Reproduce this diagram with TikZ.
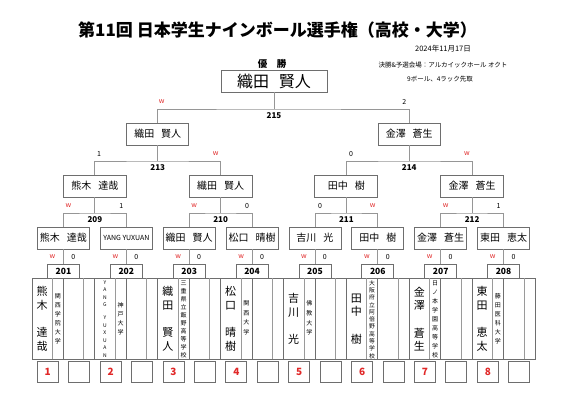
\documentclass[tikz,border=0pt]{standalone}
\usepackage{fontspec}
\setmainfont{Noto Sans CJK JP}
\definecolor{boxgray}{RGB}{110,110,110}
\definecolor{linegray}{RGB}{150,150,150}
\definecolor{wred}{RGB}{225,40,40}
\begin{document}
\begin{tikzpicture}[x=1pt,y=-1pt,
  box/.style={draw=boxgray, line width=0.8pt, minimum height=22pt, inner sep=0pt, font=\fontsize{10}{12}\selectfont},
  mbox/.style={draw=boxgray, line width=0.8pt, minimum width=32pt, minimum height=14pt, inner sep=0pt, font=\bfseries\fontsize{8.5}{10}\selectfont},
  numbox/.style={draw=boxgray, line width=0.8pt, minimum width=21pt, minimum height=21pt, inner sep=0pt, font=\bfseries\fontsize{10}{12}\selectfont, text=wred},
  conn/.style={draw=linegray, line width=0.8pt},
  wlab/.style={font=\fontsize{7}{8}\selectfont, text=wred, inner sep=0pt},
  slab/.style={font=\fontsize{7}{8}\selectfont, inner sep=0pt},
  mlab/.style={font=\bfseries\fontsize{8}{9}\selectfont, inner sep=0pt},
  pname/.style={align=center, inner sep=0pt, font=\fontsize{11}{13.5}\selectfont},
  info/.style={inner sep=0pt}
]
\fill[white] (0,0) rectangle (566,400);
\useasboundingbox (0,0) rectangle (566,400);

% title and info
\node[info, font=\bfseries\fontsize{17}{20}\selectfont] (title) at (277.5,30) {第11回 日本学生ナインボール選手権（高校・大学）};
\node[info, font=\fontsize{7.5}{9}\selectfont] (date) at (443,49) {2024年11月17日};
\node[info, font=\fontsize{6.5}{8}\selectfont] (venue) at (443,65) {決勝\&予選会場：アルカイックホール オクト};
\node[info, font=\fontsize{6.5}{8}\selectfont] (rule) at (440,79) {9ボール、4ラック先取};
\node[info, font=\bfseries\fontsize{9.5}{11}\selectfont] (yusho) at (272,64) {優\hspace{1em}勝};

% champion
\node[box, minimum width=106pt, font=\fontsize{16}{18}\selectfont] (champ) at (274,81) {織田\hspace{0.6em}賢人};

% round boxes
\node[box, minimum width=62pt] (f1) at (157.75,134) {織田\hspace{0.7em}賢人};
\node[box, minimum width=62pt] (f2) at (409.25,134) {金澤\hspace{0.7em}蒼生};

\node[box, minimum width=63pt] (s1) at (94.88,186) {熊木\hspace{0.7em}達哉};
\node[box, minimum width=63pt] (s2) at (220.63,186) {織田\hspace{0.7em}賢人};
\node[box, minimum width=63pt] (s3) at (346.38,186) {田中\hspace{0.7em}樹};
\node[box, minimum width=63pt] (s4) at (472.13,186) {金澤\hspace{0.7em}蒼生};

\node[box, minimum width=52pt] (q1) at (63.44,238) {熊木\hspace{0.7em}達哉};
\node[box, minimum width=52pt, font=\fontsize{7}{8}\selectfont] (q2) at (126.31,238) {YANG YUXUAN};
\node[box, minimum width=52pt] (q3) at (189.19,238) {織田\hspace{0.7em}賢人};
\node[box, minimum width=52pt] (q4) at (252.06,238) {松口\hspace{0.7em}晴樹};
\node[box, minimum width=52pt] (q5) at (314.94,238) {吉川\hspace{0.7em}光};
\node[box, minimum width=52pt] (q6) at (377.81,238) {田中\hspace{0.7em}樹};
\node[box, minimum width=52pt] (q7) at (440.69,238) {金澤\hspace{0.7em}蒼生};
\node[box, minimum width=52pt] (q8) at (503.56,238) {東田\hspace{0.7em}恵太};

% match boxes
\node[mbox] (m201) at (63.44,271) {201};
\node[mbox] (m202) at (126.31,271) {202};
\node[mbox] (m203) at (189.19,271) {203};
\node[mbox] (m204) at (252.06,271) {204};
\node[mbox] (m205) at (314.94,271) {205};
\node[mbox] (m206) at (377.81,271) {206};
\node[mbox] (m207) at (440.69,271) {207};
\node[mbox] (m208) at (503.56,271) {208};

% connectors
\coordinate (h215) at (274,109);
\draw[conn] (champ.south) -- (h215);
\draw[conn] (f1.north) |- (h215) -| (f2.north);
\coordinate (h213) at (157.75,161);
\coordinate (h214) at (409.25,161);
\draw[conn] (f1.south) -- (h213);
\draw[conn] (f2.south) -- (h214);
\draw[conn] (s1.north) |- (h213) -| (s2.north);
\draw[conn] (s3.north) |- (h214) -| (s4.north);
\coordinate (h209) at (94.88,213);
\coordinate (h210) at (220.63,213);
\coordinate (h211) at (346.38,213);
\coordinate (h212) at (472.13,213);
\draw[conn] (s1.south) -- (h209);
\draw[conn] (s2.south) -- (h210);
\draw[conn] (s3.south) -- (h211);
\draw[conn] (s4.south) -- (h212);
\draw[conn] (q1.north) |- (h209) -| (q2.north);
\draw[conn] (q3.north) |- (h210) -| (q4.north);
\draw[conn] (q5.north) |- (h211) -| (q6.north);
\draw[conn] (q7.north) |- (h212) -| (q8.north);
\foreach \i/\m in {1/201,2/202,3/203,4/204,5/205,6/206,7/207,8/208}
  \draw[conn] (q\i.south) -- (m\m.north);

% match numbers
\node[mlab] (l215) at (274,116) {215};
\node[mlab] (l213) at (157.75,168) {213};
\node[mlab] (l214) at (409.25,168) {214};
\node[mlab] (l209) at (94.88,220) {209};
\node[mlab] (l210) at (220.63,220) {210};
\node[mlab] (l211) at (346.38,220) {211};
\node[mlab] (l212) at (472.13,220) {212};

% scores
\node[wlab] (w215) at (161.75,102) {w};
\node[slab] (r215) at (404.25,102) {2};
\node[slab] (w213) at (99,154) {1};
\node[wlab] (r213) at (215.6,154) {w};
\node[slab] (w214) at (351,154) {0};
\node[wlab] (r214) at (467,154) {w};
\node[wlab] (w209) at (68.4,206) {w};
\node[slab] (r209) at (121.3,206) {1};
\node[wlab] (w210) at (194.2,206) {w};
\node[slab] (r210) at (247,206) {0};
\node[slab] (w211) at (320,206) {0};
\node[wlab] (r211) at (372.8,206) {w};
\node[wlab] (w212) at (445.7,206) {w};
\node[slab] (r212) at (498.5,206) {1};
\foreach \m/\x in {201/63.44,202/126.31,203/189.19,204/252.06,205/314.94,206/377.81,207/440.69,208/503.56}{
  \node[wlab] (bw\m) at (\x-11,257) {w};
  \node[slab] (bl\m) at (\x+10,257) {0};
}

% entry table
\draw[boxgray, line width=0.8pt] (32,278) rectangle (535,359);
\foreach \k in {1,...,15}
  \draw[boxgray, line width=0.8pt] (32+31.4375*\k,278) -- (32+31.4375*\k,359);
\foreach \k in {0,...,15}
  \draw[boxgray!70, line width=0.6pt] (32+31.4375*\k+20.3,278) -- (32+31.4375*\k+20.3,359);

% player names (vertical)
\node[pname] (p1) at (42,319) {熊\\木\\[14pt]達\\哉};
\node[pname, font=\fontsize{5}{7.5}\selectfont] (p2) at (104.88,319) {Y\\A\\N\\G\\[5.5pt]Y\\U\\X\\U\\A\\N};
\node[pname] (p3) at (167.75,319) {織\\田\\[14pt]賢\\人};
\node[pname] (p4) at (230.63,319) {松\\口\\[14pt]晴\\樹};
\node[pname] (p5) at (293.5,319) {吉\\川\\[14pt]光};
\node[pname] (p6) at (356.38,319) {田\\中\\[14pt]樹};
\node[pname] (p7) at (419.25,319) {金\\澤\\[14pt]蒼\\生};
\node[pname] (p8) at (482.13,319) {東\\田\\[14pt]恵\\太};

% schools (vertical)
\node[pname, font=\fontsize{6}{9}\selectfont] (c1) at (57.8,319) {関\\西\\学\\院\\大\\学};
\node[pname, font=\fontsize{6}{9}\selectfont] (c2) at (120.7,319) {神\\戸\\大\\学};
\node[pname, font=\fontsize{6}{8.1}\selectfont] (c3) at (183.5,319.5) {三\\重\\県\\立\\飯\\野\\高\\等\\学\\校};
\node[pname, font=\fontsize{6}{9.6}\selectfont] (c4) at (246.4,318) {関\\西\\大\\学};
\node[pname, font=\fontsize{6}{9.6}\selectfont] (c5) at (309.3,318) {佛\\教\\大\\学};
\node[pname, font=\fontsize{5.8}{7.3}\selectfont] (c6) at (372.1,319.5) {大\\阪\\府\\立\\阿\\倍\\野\\高\\等\\学\\校};
\node[pname, font=\fontsize{6}{9.1}\selectfont] (c7) at (435,319.5) {日\\ノ\\本\\学\\園\\高\\等\\学\\校};
\node[pname, font=\fontsize{6}{9}\selectfont] (c8) at (497.9,319) {藤\\田\\医\\科\\大\\学};

% seed number boxes
\foreach \k in {0,...,15}{
  \pgfmathtruncatemacro{\isodd}{mod(\k,2)}
  \pgfmathtruncatemacro{\pn}{\k/2+1}
  \ifnum\isodd=0
    \node[numbox] (n\k) at (32+31.4375*\k+15.7,371.5) {\pn};
  \else
    \node[numbox] (n\k) at (32+31.4375*\k+15.7,371.5) {};
  \fi
}
\end{tikzpicture}
\end{document}
